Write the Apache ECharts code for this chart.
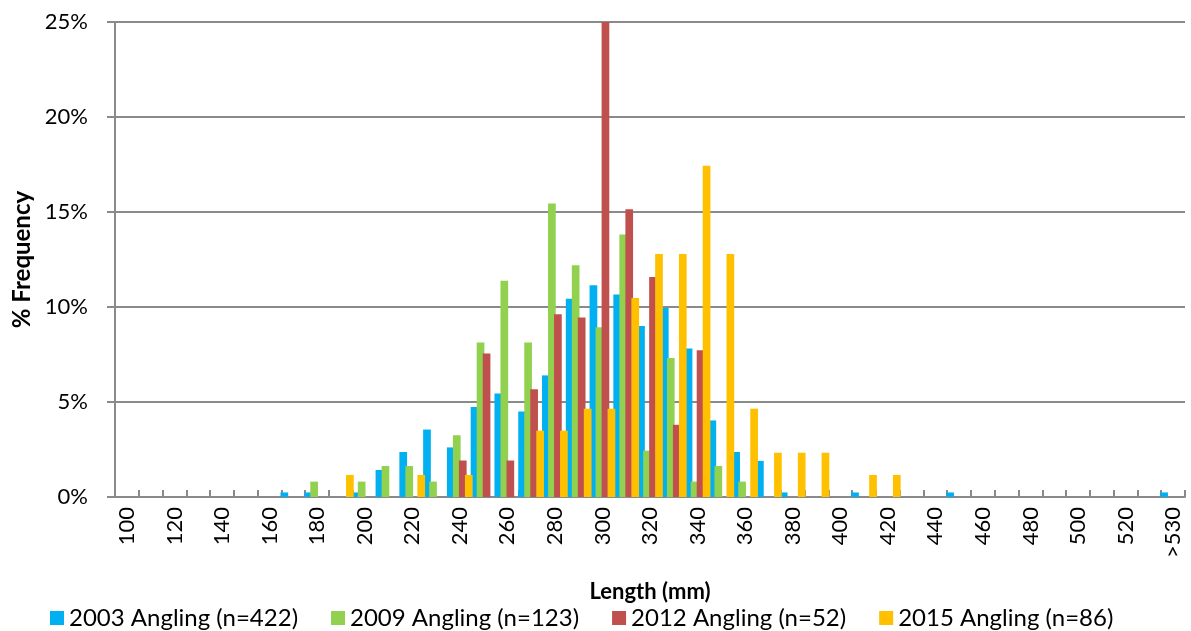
<!DOCTYPE html>
<html>
<head>
<meta charset="utf-8">
<style>
  html, body { margin: 0; padding: 0; background: #ffffff; }
  #chart { width: 1191px; height: 631px; }
</style>
<script src="https://cdn.jsdelivr.net/npm/echarts@6/dist/echarts.min.js"></script>
</head>
<body>
<div id="chart"></div>
<script>
// Length classes (mm), 10 mm bins, plus the open-ended top class
const lengthClasses = [
  '100','110','120','130','140','150','160','170','180','190',
  '200','210','220','230','240','250','260','270','280','290',
  '300','310','320','330','340','350','360','370','380','390',
  '400','410','420','430','440','450','460','470','480','490',
  '500','510','520','530','>530'
];

// % frequency per length class for each survey
const angling2003 = [
  0, 0, 0, 0, 0, 0, 0, 0.24, 0.24, 0,
  0.24, 1.42, 2.37, 3.55, 2.61, 4.74, 5.45, 4.50, 6.40, 10.43,
  11.14, 10.66, 9.00, 9.95, 7.82, 4.03, 2.37, 1.90, 0.24, 0,
  0, 0.24, 0, 0, 0, 0.24, 0, 0, 0, 0,
  0, 0, 0, 0, 0.24
];
const angling2009 = [
  0, 0, 0, 0, 0, 0, 0, 0, 0.81, 0,
  0.81, 1.63, 1.63, 0.81, 3.25, 8.13, 11.38, 8.13, 15.45, 12.20,
  8.94, 13.82, 2.44, 7.32, 0.81, 1.63, 0.81, 0, 0, 0,
  0, 0, 0, 0, 0, 0, 0, 0, 0, 0,
  0, 0, 0, 0, 0
];
const angling2012 = [
  0, 0, 0, 0, 0, 0, 0, 0, 0, 0,
  0, 0, 0, 0, 1.92, 7.55, 1.92, 5.67, 9.62, 9.45,
  25.00, 15.14, 11.58, 3.80, 7.73, 0, 0, 0, 0, 0,
  0, 0, 0, 0, 0, 0, 0, 0, 0, 0,
  0, 0, 0, 0, 0
];
const angling2015 = [
  0, 0, 0, 0, 0, 0, 0, 0, 0, 1.16,
  0, 0, 1.16, 0, 1.16, 0, 0, 3.49, 3.49, 4.65,
  4.65, 10.47, 12.79, 12.79, 17.44, 12.79, 4.65, 2.33, 2.33, 2.33,
  0, 1.16, 1.16, 0, 0, 0, 0, 0, 0, 0,
  0, 0, 0, 0, 0
];

const seriesNames = [
  '2003 Angling (n=422)',
  '2009 Angling (n=123)',
  '2012 Angling (n=52)',
  '2015 Angling (n=86)'
];
const seriesColors = ['#00B0F0', '#92D050', '#C0504D', '#FFC000'];
const seriesData = [angling2003, angling2009, angling2012, angling2015];

const FONT = 'Lato, "Open Sans", sans-serif';
const GRID_GREY = '#8a8a8a';

const chart = echarts.init(document.getElementById('chart'), null, { renderer: 'canvas' });

chart.setOption({
  animation: false,
  backgroundColor: '#ffffff',
  textStyle: { fontFamily: FONT, color: '#000' },
  grid: { left: 115, right: 6, top: 22, bottom: 134, containLabel: false },
  legend: {
    top: 601,
    left: 45,
    itemWidth: 14,
    itemHeight: 14,
    itemGap: 33,
    icon: 'rect',
    textStyle: { fontFamily: FONT, fontSize: 24, color: '#000' },
    data: seriesNames
  },
  xAxis: {
    type: 'category',
    data: lengthClasses,
    name: 'Length (mm)',
    nameLocation: 'middle',
    nameGap: 84,
    nameTextStyle: { fontFamily: FONT, fontSize: 22, fontWeight: 'bold', color: '#000' },
    axisLine: { lineStyle: { color: GRID_GREY, width: 2 } },
    axisTick: { show: true, inside: true, length: 7, interval: 0, lineStyle: { color: GRID_GREY, width: 2 } },
    axisLabel: { interval: 1, rotate: 90, margin: 10, fontFamily: FONT, fontSize: 22, color: '#000' },
    splitLine: { show: false }
  },
  yAxis: {
    type: 'value',
    min: 0,
    max: 25,
    interval: 5,
    name: '% Frequency',
    nameLocation: 'middle',
    nameGap: 80,
    nameTextStyle: { fontFamily: FONT, fontSize: 24, fontWeight: 'bold', color: '#000' },
    axisLine: { show: true, lineStyle: { color: GRID_GREY, width: 2 } },
    axisTick: { show: true, inside: false, length: 8, lineStyle: { color: GRID_GREY, width: 2 } },
    axisLabel: { margin: 27, fontFamily: FONT, fontSize: 22, color: '#000', formatter: '{value}%' },
    splitLine: { show: true, lineStyle: { color: GRID_GREY, width: 2 } }
  },
  series: seriesNames.map((name, i) => ({
    name: name,
    type: 'bar',
    data: seriesData[i],
    barWidth: 7.7,
    barGap: '-22%',
    itemStyle: { color: seriesColors[i] },
    emphasis: { disabled: true }
  }))
});
</script>
</body>
</html>
